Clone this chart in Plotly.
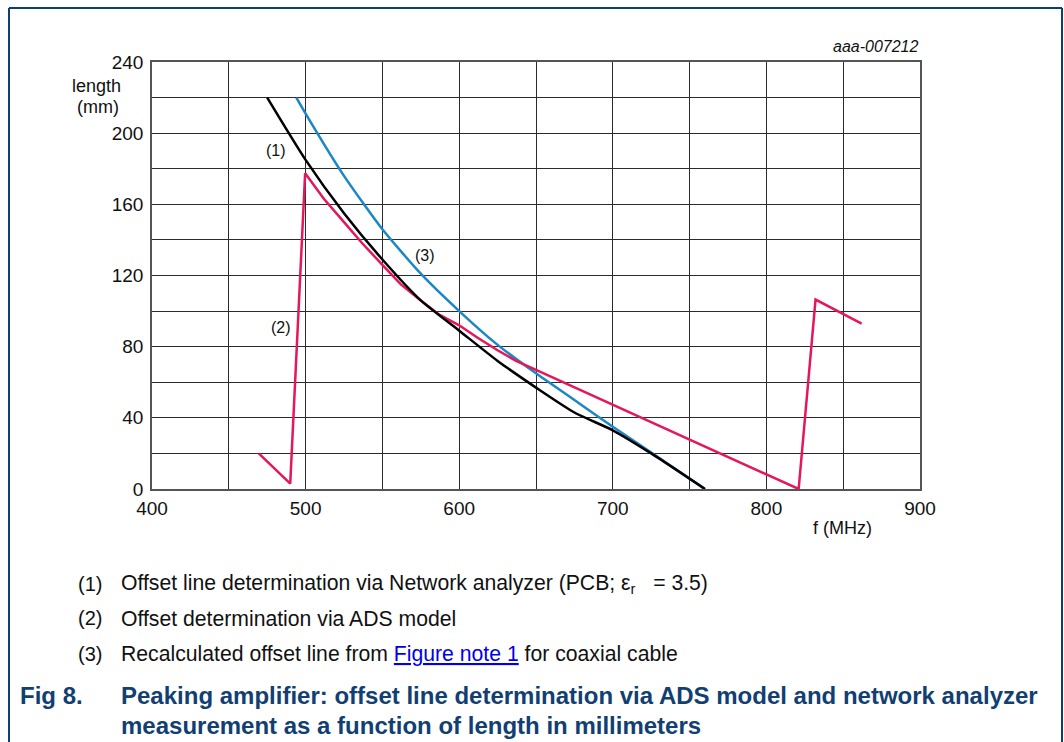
import plotly.graph_objects as go

# Offset line length (mm) versus frequency (MHz)
f_network = [475, 500, 525, 550, 575, 600, 625, 650, 675, 700, 725, 760]
len_network = [220, 185, 155, 129, 106, 89, 72, 57, 43, 33, 20, 0]

f_ads = [469.5, 490, 499.7, 512, 525, 537, 550, 562, 575, 587, 600, 612, 625, 637, 650, 700, 760, 821, 832, 862]
len_ads = [20, 3, 177.5, 163, 150, 138, 126, 115, 106, 98, 92, 85, 78, 72, 67, 47.4, 23.5, 0, 106.5, 93]

f_coax = [494, 500, 525, 550, 575, 600, 625, 650, 675, 700, 725, 760]
len_coax = [220, 211, 176, 146, 121, 100, 81, 65, 50, 35, 20.5, 0]

x_ticks = [400, 500, 600, 700, 800, 900]
y_ticks = [0, 40, 80, 120, 160, 200, 240]

RED = "#e5175b"
BLUE = "#1b87c7"
FRAME = "#0c3f74"
CAPTION = "#123f73"
FONT = "Liberation Sans, Arial, sans-serif"

# plot area in pixels
L, R, T, B = 152, 920, 62, 489
W, H = 1064, 742


def px(x):
    return (x - L) / (R - L)


def py(y):
    return (B - y) / (B - T)


fig = go.Figure()
fig.add_trace(go.Scatter(x=f_coax, y=len_coax, mode="lines",
                         line=dict(color=BLUE, width=2.5, shape="spline", smoothing=0.6)))
fig.add_trace(go.Scatter(x=f_ads, y=len_ads, mode="lines",
                         line=dict(color=RED, width=2.5)))
fig.add_trace(go.Scatter(x=f_network, y=len_network, mode="lines",
                         line=dict(color="black", width=2.5, shape="spline", smoothing=0.6)))

grid = dict(showgrid=True, gridcolor="#2b2b2b", gridwidth=1.2, zeroline=False,
            showline=True, linecolor="#555555", linewidth=1.5, mirror=True,
            ticks="", tickfont=dict(family=FONT, size=19, color="#111111"))

fig.update_xaxes(range=[400, 900], tickmode="array", tickvals=x_ticks,
                 ticktext=[str(v) for v in x_ticks],
                 minor=dict(dtick=50, showgrid=True, gridcolor="#2b2b2b", gridwidth=1.2),
                 ticklabelstandoff=1, **grid)
fig.update_yaxes(range=[0, 240], tickmode="array", tickvals=y_ticks,
                 minor=dict(dtick=20, showgrid=True, gridcolor="#2b2b2b", gridwidth=1.2),
                 ticklabelstandoff=3, **grid)

ann = []


def text(x, y, s, size=17, xanchor="left", color="#111111", italic=False):
    ann.append(dict(x=px(x), y=py(y), xref="paper", yref="paper", text=s, showarrow=False,
                    xanchor=xanchor, yanchor="middle", align="left",
                    font=dict(family=FONT, size=size, color=color,
                              style="italic" if italic else "normal")))


# axis titles and id
text(921, 47, "aaa-007212", size=16, xanchor="right", italic=True)
text(123, 86, "length", size=18, xanchor="right")
text(121, 107, "(mm)", size=18, xanchor="right")
text(874, 528, "f (MHz)", size=18, xanchor="right")

# curve labels
for fx, ly, lab in [(481, 190, "(1)"), (484, 91, "(2)"), (578, 131.5, "(3)")]:
    ann.append(dict(x=fx, y=ly, xref="x", yref="y", text=lab, showarrow=False,
                    font=dict(family=FONT, size=16, color="#111111")))

# notes
notes = [
    "Offset line determination via Network analyzer (PCB; ε<sub>r</sub>   = 3.5)",
    "Offset determination via ADS model",
    "Recalculated offset line from <span style='fill:#0000ee;text-decoration:underline'>Figure note 1</span> for coaxial cable",
]
for i, (yy, note) in enumerate(zip([584, 618, 654], notes)):
    text(76, yy, f"({i + 1})", size=20)
    text(119, yy, note, size=21.2)

# caption
text(18, 695, "<b>Fig 8.</b>", size=24, color=CAPTION)
text(119, 695, "<b>Peaking amplifier: offset line determination via ADS model and network analyzer</b>",
     size=24, color=CAPTION)
text(119, 725, "<b>measurement as a function of length in millimeters</b>",
     size=24, color=CAPTION)

# frame around the figure (left, top, right)
shapes = [
    dict(type="line", xref="paper", yref="paper", x0=px(9), x1=px(9), y0=py(H), y1=py(8),
         line=dict(color=FRAME, width=2)),
    dict(type="line", xref="paper", yref="paper", x0=px(9), x1=px(1062), y0=py(8), y1=py(8),
         line=dict(color=FRAME, width=2)),
    dict(type="line", xref="paper", yref="paper", x0=px(1062), x1=px(1062), y0=py(H), y1=py(8),
         line=dict(color=FRAME, width=2)),
]

fig.update_layout(
    width=W, height=H,
    margin=dict(l=L, r=W - R, t=T, b=H - B),
    paper_bgcolor="white", plot_bgcolor="white",
    showlegend=False,
    annotations=ann, shapes=shapes,
)

fig.write_html("out.html")
